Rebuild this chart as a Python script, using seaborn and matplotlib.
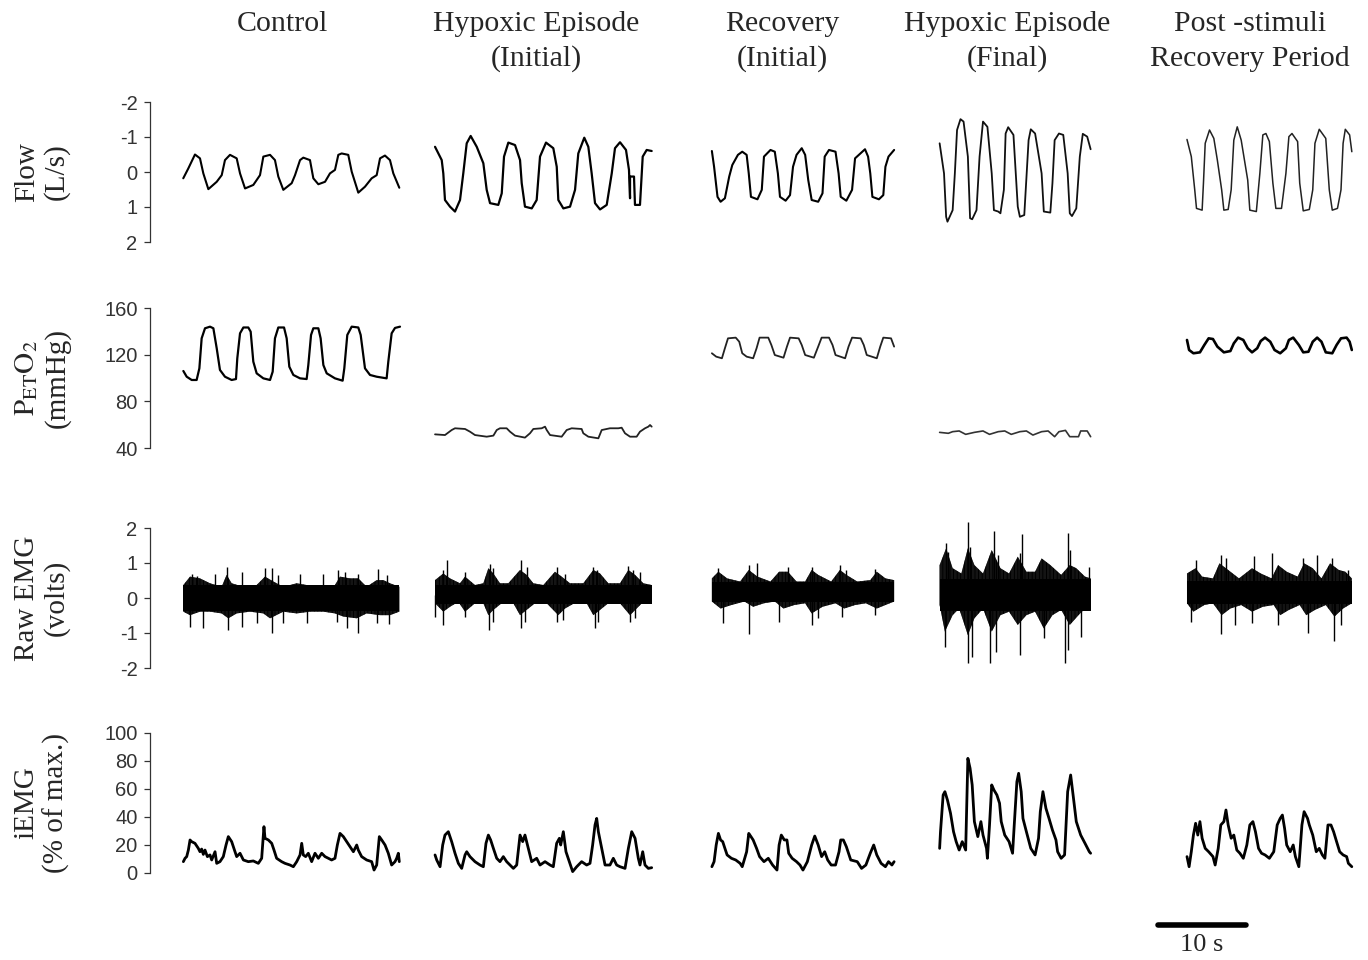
import numpy as np
import matplotlib
matplotlib.use("Agg")
import matplotlib.pyplot as plt
import seaborn as sns

# ---------------- text ----------------
title_line1 = ["Control", "Hypoxic Episode", "Recovery", "Hypoxic Episode", "Post -stimuli"]
title_line2 = ["", "(Initial)", "(Initial)", "(Final)", "Recovery Period"]
row_labels = ["Flow\n(L/s)", "$\\mathrm{P_{ET}O_2}$\n(mmHg)", "Raw EMG\n(volts)", "iEMG\n(% of max.)"]
flow_ticks = [-2, -1, 0, 1, 2]
peto2_ticks = [40, 80, 120, 160]
emg_ticks = [-2, -1, 0, 1, 2]
iemg_ticks = [0, 20, 40, 60, 80, 100]
scale_bar_s = 10
scale_label = "10 s"

# ---------------- Flow (L/s), time in s ----------------
flow_control_t = [3.78,4.35,5.11,5.68,6.06,6.63,7.58,8.15,8.52,9.09,9.85,10.23,10.80,11.74,12.50,12.88,13.64,14.20,14.58,15.15,16.10,16.48,17.05,17.42,18.18,18.56,19.13,19.89,20.45,21.02,21.40,21.78,22.53,22.92,23.67,24.43,25.19,25.76,26.14,26.70,27.27,27.65,28.33]
flow_control_v = [0.18,-0.10,-0.50,-0.39,0.04,0.49,0.28,0.09,-0.34,-0.49,-0.39,0.04,0.47,0.37,0.09,-0.44,-0.49,-0.34,0.13,0.51,0.32,0.09,-0.34,-0.41,-0.34,0.18,0.35,0.28,0.04,-0.06,-0.49,-0.53,-0.49,-0.01,0.59,0.42,0.18,0.09,-0.39,-0.47,-0.34,0.04,0.45]
flow_hypi_t = [32.39,33.15,33.33,33.52,34.09,34.66,35.23,35.60,35.99,36.44,37.13,37.88,38.26,38.64,39.58,39.97,40.23,40.72,41.48,42.05,42.24,42.61,43.38,43.94,44.32,45.00,45.83,46.22,46.40,46.97,47.73,48.30,48.67,49.35,49.81,50.19,50.57,51.14,51.90,52.47,52.84,53.41,54.09,54.43,54.55,54.55,55.00,55.11,55.68,55.99,56.44,57.01]
flow_hypi_v = [-0.72,-0.34,0.04,0.80,0.99,1.13,0.80,0.04,-0.82,-1.03,-0.72,-0.25,0.51,0.89,0.94,0.61,-0.44,-0.84,-0.77,-0.34,0.32,0.99,1.04,0.80,-0.44,-0.84,-0.68,-0.15,0.80,1.04,0.99,0.51,-0.53,-0.98,-0.72,0.04,0.89,1.07,0.94,0.04,-0.68,-0.85,-0.63,-0.06,0.75,0.13,0.13,0.94,0.94,-0.44,-0.63,-0.60]
flow_reci_t = [63.85,64.10,64.49,64.84,65.33,65.82,66.17,66.81,67.30,67.80,68.04,68.29,69.03,69.52,69.77,70.51,71.00,71.35,71.59,72.23,72.73,73.07,73.47,74.06,74.45,74.80,75.19,75.93,76.42,76.67,77.16,77.90,78.25,78.49,79.13,79.78,80.12,81.25,81.60,81.85,82.09,82.83,83.33,83.57,83.92,84.56]
flow_reci_v = [-0.60,-0.15,0.71,0.85,0.75,0.13,-0.20,-0.49,-0.58,-0.49,0.04,0.71,0.78,0.51,-0.44,-0.63,-0.58,0.04,0.71,0.82,0.66,-0.15,-0.49,-0.68,-0.49,0.23,0.80,0.85,0.61,-0.44,-0.63,-0.58,0.04,0.71,0.82,0.51,-0.39,-0.65,-0.44,0.04,0.71,0.78,0.66,-0.15,-0.44,-0.63]
flow_hypf_t = [89.73,90.23,90.47,90.62,91.21,91.46,91.71,92.10,92.45,92.94,93.19,93.43,93.92,94.27,94.66,95.16,95.65,95.90,96.39,96.64,97.03,97.23,97.52,98.12,98.61,98.85,99.35,99.84,100.09,100.58,101.32,101.57,102.31,102.55,102.80,103.29,103.78,104.28,104.52,104.77,105.26,105.66,106.00,106.50,106.89]
flow_hypf_v = [-0.82,0.04,1.28,1.42,1.09,0.04,-1.20,-1.51,-1.44,-0.44,1.32,1.35,1.09,-0.44,-1.44,-1.29,0.04,1.09,1.13,1.18,0.51,-1.10,-1.28,-1.06,0.99,1.28,1.23,-0.91,-1.22,-1.10,0.04,1.13,1.16,0.32,-0.91,-1.10,-1.06,0.04,1.18,1.26,1.04,-0.44,-1.09,-1.01,-0.65]
flow_post_t = [117.84,118.33,118.72,118.92,119.56,119.71,119.91,120.40,120.89,121.29,121.78,122.03,122.52,122.86,123.16,123.55,124.00,124.74,124.98,125.72,126.12,126.46,126.81,127.20,127.60,127.94,128.58,129.08,129.42,129.77,130.41,130.65,131.05,131.74,132.13,132.38,132.87,133.61,134.01,134.35,134.94,135.34,135.58,135.83,136.32,136.57]
flow_post_v = [-0.93,-0.44,0.51,1.04,1.09,0.32,-0.82,-1.20,-0.96,-0.34,0.51,1.09,1.07,0.51,-0.91,-1.29,-0.91,0.23,1.09,1.13,0.04,-1.06,-1.10,-0.87,0.32,1.04,1.04,0.04,-1.01,-1.10,-0.87,0.32,1.11,1.07,0.51,-0.82,-1.22,-0.96,0.51,1.09,1.04,0.51,-0.82,-1.22,-1.06,-0.58]

# ---------------- PETO2 (mmHg) ----------------
peto2_control_t = [3.79,4.17,4.74,5.30,5.61,5.87,6.25,6.82,7.20,7.58,7.95,8.52,9.28,9.77,9.92,10.23,10.61,11.17,11.44,11.74,12.12,12.88,13.64,13.94,14.20,14.58,15.23,15.53,15.83,16.29,17.05,17.80,17.99,18.30,18.56,19.13,19.39,19.70,20.08,21.02,21.89,22.08,22.42,22.92,23.67,23.94,24.43,25.00,25.76,26.89,27.08,27.46,27.84,28.41]
peto2_control_v = [106.0,101.1,98.3,98.3,108.3,134.0,142.6,144.0,142.6,125.5,106.9,101.1,98.3,99.1,116.9,138.3,143.3,143.3,139.7,114.0,104.0,99.7,98.3,105.4,134.0,143.3,143.3,134.0,109.7,102.6,99.7,99.1,111.1,136.9,142.6,142.6,134.0,111.1,104.0,99.7,97.7,108.3,136.9,144.0,143.3,136.9,108.3,102.6,101.1,99.7,114.0,138.3,142.9,144.0]
peto2_hypi_t = [32.39,33.52,34.28,34.66,35.80,36.36,36.93,38.26,39.02,39.40,39.77,40.53,40.91,41.48,42.61,43.18,43.56,44.51,44.89,45.08,45.46,46.78,47.35,47.92,49.05,49.24,49.81,50.95,51.33,52.27,53.22,53.60,53.98,54.55,55.30,55.68,56.25,56.63,56.82,57.01]
peto2_hypi_v = [51.7,51.1,55.4,56.9,56.3,54.0,51.1,49.7,50.6,55.4,56.9,56.9,54.0,50.6,48.9,52.6,56.3,56.9,58.3,55.4,51.1,49.7,55.4,56.9,56.3,52.6,49.7,48.3,55.4,56.9,56.9,57.4,52.6,49.7,49.7,54.0,56.9,58.3,59.7,58.3]
peto2_reci_t = [63.85,64.34,64.99,65.33,65.68,66.56,66.96,67.30,67.80,68.54,68.93,69.27,70.26,70.61,71.00,71.99,72.38,72.73,73.71,74.06,74.45,75.44,75.93,76.32,77.16,77.56,77.90,78.99,79.38,79.78,80.76,81.11,81.45,82.59,82.98,83.33,84.21,84.56]
peto2_reci_v = [121.2,118.3,116.9,125.5,134.0,134.6,131.1,121.2,118.3,116.9,125.5,134.6,134.6,128.3,119.7,117.4,126.9,134.6,134.0,128.3,119.7,117.4,126.9,134.6,134.6,128.3,119.7,116.9,126.9,134.6,134.0,128.3,119.7,116.9,126.9,134.6,134.0,126.9]
peto2_hypf_t = [89.73,90.72,91.21,91.95,92.69,93.68,94.66,95.40,96.39,97.13,97.87,98.85,99.59,100.33,101.32,102.06,102.80,103.29,104.03,104.52,105.51,105.76,106.50,106.89]
peto2_hypf_v = [53.4,52.6,54.0,54.6,51.7,53.4,54.6,51.7,54.0,54.6,51.7,54.0,54.6,51.1,54.0,54.6,49.7,54.0,55.1,49.7,49.7,54.6,54.6,49.7]
peto2_post_t = [117.84,118.08,118.57,119.31,119.81,120.30,120.79,121.29,122.03,122.77,123.16,123.65,124.24,124.74,125.23,125.82,126.22,126.71,127.30,127.79,128.43,129.08,129.42,129.91,130.55,131.05,131.64,132.13,132.63,133.12,133.61,134.35,134.84,135.34,135.98,136.32,136.57]
peto2_post_v = [132.6,124.0,121.2,122.0,128.3,134.0,133.4,126.9,122.0,123.1,129.7,134.6,132.6,125.5,122.0,125.5,131.7,134.6,131.1,124.0,121.2,125.5,132.6,134.6,128.3,122.0,122.5,131.1,134.6,131.1,122.0,121.2,128.3,134.0,134.6,131.1,124.0]

# ---------------- Raw EMG (volts) ----------------
# solid core of each trace (top, bottom), hair envelopes and the longest spike tips
emg_core_top = [0.36, 0.36, 0.45, 0.55, 0.50]
emg_core_bottom = [-0.38, -0.16, -0.12, -0.36, -0.16]

emg_control_up_t = [3.79,4.55,5.68,6.82,8.14,8.71,9.28,10.61,12.12,13.07,14.02,15.15,16.67,17.80,18.94,20.08,21.02,21.59,22.73,23.67,24.62,25.76,26.52,27.27,28.33]
emg_control_up_v = [0.37,0.61,0.56,0.42,0.32,0.66,0.42,0.32,0.37,0.61,0.47,0.32,0.42,0.37,0.32,0.32,0.37,0.61,0.56,0.56,0.32,0.51,0.51,0.42,0.32]
emg_control_lo_t = [3.79,4.55,5.68,6.82,8.14,8.90,9.85,11.36,12.88,13.64,15.15,16.67,18.18,19.70,21.02,21.97,23.49,24.62,26.14,27.27,28.33]
emg_control_lo_v = [-0.39,-0.49,-0.39,-0.39,-0.44,-0.58,-0.44,-0.39,-0.44,-0.58,-0.39,-0.44,-0.39,-0.39,-0.44,-0.53,-0.58,-0.44,-0.49,-0.49,-0.39]
emg_control_spk_t = [4.73,5.30,7.39,8.79,10.42,13.07,13.83,14.58,17.05,19.70,21.40,22.16,23.67,25.95,26.89,4.55,5.99,8.90,10.42,12.12,13.83,15.15,17.80,21.21,22.35,23.67,25.76,27.20]
emg_control_spk_v = [0.68,0.63,0.70,0.88,0.73,0.85,0.87,0.66,0.68,0.68,0.80,0.73,0.68,0.83,0.66,-0.82,-0.87,-0.91,-0.82,-0.72,-1.01,-0.72,-0.72,-0.68,-0.87,-1.01,-0.72,-0.75]

emg_hypi_up_t = [32.39,33.33,34.09,35.23,35.80,36.93,37.88,38.45,39.02,39.77,40.72,42.05,42.80,43.56,44.70,46.02,46.78,47.73,49.24,50.38,51.14,52.08,53.41,54.36,55.12,56.06,57.01]
emg_hypi_up_v = [0.51,0.70,0.56,0.42,0.61,0.37,0.42,0.85,0.70,0.42,0.42,0.80,0.66,0.42,0.37,0.75,0.61,0.42,0.42,0.80,0.70,0.42,0.42,0.80,0.66,0.42,0.37]
emg_hypi_lo_t = [32.39,33.33,34.09,35.04,35.80,36.93,37.88,38.45,39.02,40.15,41.29,42.05,42.80,43.94,45.08,46.40,47.16,48.49,49.62,50.38,51.14,52.27,53.41,54.55,55.30,56.06,57.01]
emg_hypi_lo_v = [-0.15,-0.39,-0.25,-0.11,-0.39,-0.15,-0.15,-0.49,-0.34,-0.11,-0.15,-0.49,-0.34,-0.11,-0.15,-0.49,-0.30,-0.11,-0.15,-0.49,-0.34,-0.11,-0.15,-0.49,-0.30,-0.11,-0.15]
emg_hypi_spk_t = [33.71,33.33,35.80,38.64,39.02,42.12,42.80,46.21,47.16,50.38,50.76,54.36,54.92,55.68,32.39,33.33,35.80,38.56,39.02,42.12,42.61,46.21,46.97,50.57,50.95,54.55,55.12]
emg_hypi_spk_v = [1.09,0.80,0.73,0.96,0.85,1.09,0.89,0.89,0.70,0.89,0.80,0.92,0.80,0.75,-0.53,-0.77,-0.53,-0.91,-0.68,-0.87,-0.68,-0.68,-0.63,-0.87,-0.68,-0.68,-0.58]

emg_reci_up_t = [63.85,64.59,65.58,67.06,68.04,69.03,70.51,71.49,72.48,73.47,74.45,75.19,75.93,77.41,78.40,79.13,80.37,81.85,82.59,83.57,84.56]
emg_reci_up_v = [0.56,0.75,0.56,0.47,0.80,0.61,0.47,0.75,0.75,0.47,0.47,0.80,0.66,0.47,0.80,0.66,0.47,0.51,0.75,0.56,0.51]
emg_reci_lo_t = [63.85,64.84,66.07,67.55,68.54,69.77,71.00,71.99,73.22,74.45,75.19,76.42,77.90,78.89,80.12,81.35,82.59,83.57,84.56]
emg_reci_lo_v = [-0.10,-0.30,-0.20,-0.10,-0.25,-0.15,-0.10,-0.30,-0.20,-0.15,-0.44,-0.25,-0.15,-0.30,-0.20,-0.15,-0.30,-0.20,-0.10]
emg_reci_spk_t = [64.59,68.04,69.03,72.48,75.19,78.40,79.13,82.34,65.08,68.04,71.49,75.19,75.93,78.64,82.34]
emg_reci_spk_v = [0.85,0.94,0.99,0.89,0.89,0.94,0.80,0.83,-0.72,-1.04,-0.68,-0.77,-0.58,-0.53,-0.49]

emg_hypf_up_t = [89.73,90.47,91.21,92.20,92.94,93.68,94.66,95.65,96.64,97.62,98.61,99.59,100.58,101.32,102.31,103.54,104.52,105.26,106.25,106.89]
emg_hypf_up_v = [0.94,1.42,0.85,0.70,1.42,0.94,0.70,1.37,0.85,0.70,1.18,0.75,0.75,1.13,0.94,0.66,0.94,0.85,0.61,0.56]
emg_hypf_lo_t = [89.73,90.33,91.21,91.95,92.94,93.68,94.66,95.65,96.64,97.62,98.61,99.59,100.58,101.57,102.55,103.54,104.52,105.51,106.25,106.89]
emg_hypf_lo_v = [-0.20,-0.96,-0.49,-0.30,-1.06,-0.58,-0.30,-0.96,-0.49,-0.39,-0.77,-0.49,-0.39,-0.87,-0.49,-0.34,-0.77,-0.49,-0.30,-0.20]
emg_hypf_spk_t = [90.47,90.72,92.94,93.19,95.90,96.39,98.85,99.10,104.28,104.52,106.74,90.33,92.94,93.43,95.40,96.14,98.85,101.57,104.03,104.28,105.76]
emg_hypf_spk_v = [1.56,1.32,2.18,1.47,1.91,1.23,1.28,1.82,1.85,1.37,0.89,-1.39,-1.87,-1.68,-1.87,-1.53,-1.63,-1.15,-1.87,-1.49,-1.11]

emg_post_up_t = [117.84,118.82,119.56,120.79,121.53,122.52,123.75,125.23,126.22,127.45,128.19,129.17,130.41,131.15,132.13,133.12,134.10,135.09,135.83,136.57]
emg_post_up_v = [0.70,0.85,0.61,0.56,0.99,0.80,0.56,0.85,0.70,0.56,0.94,0.75,0.61,0.99,0.85,0.56,0.99,0.80,0.75,0.56]
emg_post_lo_t = [117.84,118.57,119.81,120.79,121.78,122.77,124.00,125.23,126.46,127.70,128.43,129.42,130.65,131.39,132.38,133.61,134.60,135.58,136.57]
emg_post_lo_v = [-0.15,-0.39,-0.20,-0.15,-0.49,-0.30,-0.20,-0.39,-0.25,-0.20,-0.49,-0.34,-0.20,-0.49,-0.34,-0.20,-0.53,-0.30,-0.15]
emg_post_spk_t = [118.92,121.68,122.27,125.48,127.45,131.05,132.63,134.35,136.08,118.33,121.68,123.26,125.23,128.19,131.64,134.60,135.34]
emg_post_spk_v = [1.09,1.23,1.13,1.21,1.28,1.15,1.23,1.13,0.80,-0.68,-1.04,-0.77,-0.72,-0.77,-1.01,-1.23,-0.77]

# ---------------- iEMG (% of max.) ----------------
iemg_control_t = [3.79,3.98,4.17,4.36,4.55,4.73,5.11,5.49,5.68,5.87,6.06,6.25,6.52,6.82,7.01,7.39,7.58,7.95,8.33,8.64,8.90,9.28,9.66,9.85,10.23,10.61,11.17,11.74,12.31,12.69,12.95,13.07,13.45,13.83,14.09,14.39,14.96,15.34,15.91,16.29,16.67,17.05,17.24,17.42,17.69,17.99,18.37,18.75,19.13,19.51,19.89,20.27,20.64,21.02,21.29,21.59,21.97,22.35,22.73,23.11,23.49,23.67,24.05,24.62,25.19,25.46,25.76,26.06,26.33,26.71,27.08,27.46,27.84,28.03,28.22,28.33]
iemg_control_v = [8.1,10.5,11.7,16.4,23.6,22.4,21.2,17.6,15.2,17.1,13.3,16.4,11.7,12.9,9.3,15.2,6.9,8.1,11.7,20.0,26.0,22.4,15.2,11.7,14.1,9.3,8.1,8.6,6.9,10.5,33.1,24.8,23.6,21.2,16.4,10.5,8.1,6.9,5.7,4.5,8.1,12.9,21.2,12.9,11.7,14.1,8.1,14.1,10.5,14.1,11.7,10.5,9.3,10.5,20.0,28.3,26.0,22.4,18.8,15.2,20.0,16.4,11.7,9.3,8.1,2.1,5.7,26.0,23.6,20.0,14.1,5.7,8.1,10.5,14.1,8.1]
iemg_hypi_t = [32.39,32.58,32.96,33.26,33.52,33.90,34.28,34.66,35.04,35.42,35.80,35.99,36.36,36.93,37.50,37.88,38.18,38.45,38.71,39.02,39.40,39.77,40.15,40.53,40.91,41.29,41.67,42.05,42.35,42.61,42.99,43.37,43.94,44.32,44.89,45.46,45.83,46.21,46.52,46.67,46.97,47.27,47.65,48.03,48.49,49.05,49.62,50.00,50.30,50.57,50.76,50.95,51.33,51.71,52.27,52.65,53.03,53.41,53.98,54.36,54.74,55.12,55.49,55.68,55.99,56.25,56.63,57.01]
iemg_hypi_v = [12.9,9.3,4.5,20.0,27.1,29.5,22.4,14.1,6.9,3.3,12.9,15.2,11.7,8.1,5.7,4.5,21.2,27.1,23.6,17.6,10.5,8.1,11.7,8.1,5.7,3.3,5.7,27.1,22.4,27.1,17.6,8.1,10.5,5.7,8.1,5.7,4.5,21.2,24.8,20.0,29.5,15.2,8.1,1.0,4.5,8.1,5.7,6.9,20.0,34.3,39.0,29.5,17.6,5.7,5.7,10.5,5.7,4.5,3.3,17.6,29.5,24.8,10.5,5.7,15.2,5.7,3.3,3.8]
iemg_reci_t = [63.85,64.10,64.34,64.59,64.84,65.08,65.33,65.58,66.07,66.56,67.06,67.30,67.80,68.04,68.29,68.54,68.93,69.27,69.77,70.26,70.75,71.25,71.49,71.74,72.08,72.38,72.58,72.97,73.47,73.86,74.20,74.70,75.19,75.54,75.93,76.32,76.67,77.01,77.41,77.90,78.30,78.49,78.79,79.13,79.63,80.37,80.86,81.35,81.85,82.24,82.59,83.08,83.57,83.92,84.31,84.56]
iemg_reci_v = [4.5,8.1,20.0,28.3,23.6,22.4,17.6,12.9,10.5,9.3,6.9,4.5,15.2,28.3,26.0,23.6,17.6,11.7,8.1,10.5,5.7,2.1,20.0,27.1,23.6,23.6,14.1,10.5,8.1,5.7,2.1,8.1,20.0,26.4,20.0,11.7,15.2,9.3,5.7,5.7,15.2,23.6,23.6,18.8,9.3,8.1,3.3,5.7,14.1,20.0,12.9,6.9,4.5,8.1,5.7,8.1]
iemg_hypf_t = [89.73,89.83,90.13,90.33,90.62,90.97,91.31,91.61,91.95,92.30,92.69,92.94,93.19,93.43,93.68,94.07,94.42,94.66,95.06,95.16,95.40,95.65,95.90,96.24,96.54,96.73,97.13,97.62,98.02,98.21,98.51,98.71,99.00,99.20,99.59,100.09,100.58,100.97,101.17,101.47,101.81,102.16,102.55,102.95,103.14,103.54,103.93,104.28,104.62,104.92,105.26,105.76,106.25,106.74,106.89]
iemg_hypf_v = [17.6,29.5,55.7,58.1,52.1,42.6,29.5,22.4,16.4,22.4,16.4,81.9,74.8,62.9,36.7,26.0,36.7,27.1,17.6,10.5,34.3,62.9,59.3,55.7,49.8,36.7,27.1,22.4,14.1,34.3,65.2,71.2,58.1,39.0,29.5,17.6,12.9,24.8,43.8,58.1,46.2,39.0,30.7,23.6,15.2,10.5,12.9,58.1,70.0,54.5,36.7,27.1,21.2,15.2,14.1]
iemg_post_t = [117.84,118.08,118.33,118.57,118.82,119.07,119.31,119.56,119.91,120.30,120.79,121.04,121.39,121.68,122.03,122.27,122.52,122.86,123.16,123.50,123.85,124.24,124.64,124.98,125.33,125.62,125.97,126.31,126.71,127.20,127.70,128.09,128.43,128.68,128.93,129.17,129.57,129.91,130.16,130.55,130.90,131.15,131.54,131.74,132.13,132.53,132.87,133.22,133.51,133.86,134.20,134.50,134.84,135.19,135.58,135.98,136.18,136.57]
iemg_post_v = [11.7,4.5,15.2,27.1,35.5,27.1,36.7,24.8,17.6,15.2,11.7,5.7,17.6,34.3,36.7,45.0,34.3,24.8,27.1,16.4,14.1,10.5,20.0,34.3,36.7,29.5,17.6,14.1,12.9,10.5,15.2,34.3,39.0,41.4,31.9,20.0,15.2,20.0,11.7,4.5,34.3,43.8,39.0,34.3,27.1,15.2,17.6,12.9,10.5,34.3,34.3,29.5,22.4,15.2,12.9,11.7,6.9,4.5]

# ---------------- style ----------------
sns.set_theme(style="ticks")
plt.rcParams.update({
    "font.family": ["Liberation Sans", "DejaVu Sans"],
    "axes.unicode_minus": False,
    "mathtext.fontset": "stix",
    "axes.edgecolor": "#333333",
    "xtick.color": "#333333",
    "ytick.color": "#333333",
    "hatch.linewidth": 0.8,
    "hatch.color": "black",
})
SERIF = ["Liberation Serif", "DejaVu Serif"]

W, H = 1368, 960
fig = plt.figure(figsize=(W / 100, H / 100), dpi=100)
fig.patch.set_facecolor("white")

def make_axes(top_px, bottom_px):
    return fig.add_axes([150 / W, 1 - bottom_px / H, 1210 / W, (bottom_px - top_px) / H])

ax_flow = make_axes(102, 242)
ax_po2 = make_axes(308, 448)
ax_emg = make_axes(528, 668)
ax_iemg = make_axes(733, 873)

axes = [ax_flow, ax_po2, ax_emg, ax_iemg]
ylims = [(2, -2), (40, 160), (-2, 2), (0, 100)]
ticks = [flow_ticks, peto2_ticks, emg_ticks, iemg_ticks]
for ax, yl, tk, lab in zip(axes, ylims, ticks, row_labels):
    ax.set_xlim(0, 137.5)
    ax.set_ylim(*yl)
    ax.set_yticks(tk)
    ax.set_yticklabels([str(v) for v in tk])
    ax.set_xticks([])
    for s in ["top", "right", "bottom"]:
        ax.spines[s].set_visible(False)
    ax.spines["left"].set_linewidth(0.9)
    ax.tick_params(axis="y", direction="out", length=4, width=0.9, pad=5, labelsize=14.5)
    ax.patch.set_visible(False)
    bb = ax.get_position()
    fig.text(42 / W, bb.y0 + bb.height / 2, lab, rotation=90, ha="center", va="center",
             fontsize=21, family=SERIF, multialignment="center", linespacing=1.15)

def trace(ax, t, v, lw=1.5, color="black"):
    sns.lineplot(x=np.asarray(t), y=np.asarray(v), ax=ax, color=color, lw=lw,
                 estimator=None, sort=False, legend=False)

# Flow
trace(ax_flow, flow_control_t, flow_control_v, 1.5)
trace(ax_flow, flow_hypi_t, flow_hypi_v, 1.6)
trace(ax_flow, flow_reci_t, flow_reci_v, 1.5)
trace(ax_flow, flow_hypf_t, flow_hypf_v, 1.3, "#111111")
trace(ax_flow, flow_post_t, flow_post_v, 1.1, "#222222")

# PETO2
trace(ax_po2, peto2_control_t, peto2_control_v, 1.6)
trace(ax_po2, peto2_hypi_t, peto2_hypi_v, 1.3, "#222222")
trace(ax_po2, peto2_reci_t, peto2_reci_v, 1.3, "#222222")
trace(ax_po2, peto2_hypf_t, peto2_hypf_v, 1.2, "#333333")
trace(ax_po2, peto2_post_t, peto2_post_v, 1.9)

# Raw EMG
emg_sets = [
    (emg_control_up_t, emg_control_up_v, emg_control_lo_t, emg_control_lo_v, emg_control_spk_t, emg_control_spk_v),
    (emg_hypi_up_t, emg_hypi_up_v, emg_hypi_lo_t, emg_hypi_lo_v, emg_hypi_spk_t, emg_hypi_spk_v),
    (emg_reci_up_t, emg_reci_up_v, emg_reci_lo_t, emg_reci_lo_v, emg_reci_spk_t, emg_reci_spk_v),
    (emg_hypf_up_t, emg_hypf_up_v, emg_hypf_lo_t, emg_hypf_lo_v, emg_hypf_spk_t, emg_hypf_spk_v),
    (emg_post_up_t, emg_post_up_v, emg_post_lo_t, emg_post_lo_v, emg_post_spk_t, emg_post_spk_v),
]
for (ut, uv, lt, lv, st, sv), ctop, cbot in zip(emg_sets, emg_core_top, emg_core_bottom):
    xs = np.r_[np.asarray(ut), np.asarray(lt)[::-1]]
    ys = np.r_[np.asarray(uv), np.asarray(lv)[::-1]]
    # hairy fringe: dark fill with dense vertical strokes inside the envelope
    ax_emg.fill(xs, ys, facecolor="#4a4a4a", edgecolor="black", hatch="||||||||||||", lw=0, clip_on=False)
    # solid core
    ax_emg.fill_between([ut[0], ut[-1]], [cbot, cbot], [ctop, ctop], color="black", lw=0)
    ax_emg.vlines(st, 0.1, sv, color="black", lw=1.0, clip_on=False)

# iEMG
for t, v in [(iemg_control_t, iemg_control_v), (iemg_hypi_t, iemg_hypi_v), (iemg_reci_t, iemg_reci_v),
             (iemg_hypf_t, iemg_hypf_v), (iemg_post_t, iemg_post_v)]:
    trace(ax_iemg, t, v, 2.0)

# scale bar (data units of the time axis)
bar_start = 114.5
ax_iemg.hlines(-37.1, bar_start, bar_start + scale_bar_s, color="black", lw=4.0,
               capstyle="round", clip_on=False)
ax_iemg.text(bar_start + scale_bar_s / 2, -51.5, scale_label, ha="center", va="center",
             fontsize=19, family=SERIF, clip_on=False)

# column titles
title_x_px = [282, 536, 782, 1007, 1250]
for xp, l1, l2 in zip(title_x_px, title_line1, title_line2):
    fig.text(xp / W, 1 - 24 / H, l1, ha="center", va="center", fontsize=21.5, family=SERIF)
    if l2:
        fig.text(xp / W, 1 - 59 / H, l2, ha="center", va="center", fontsize=21.5, family=SERIF)

fig.savefig("out.png", dpi=100, facecolor="white")
